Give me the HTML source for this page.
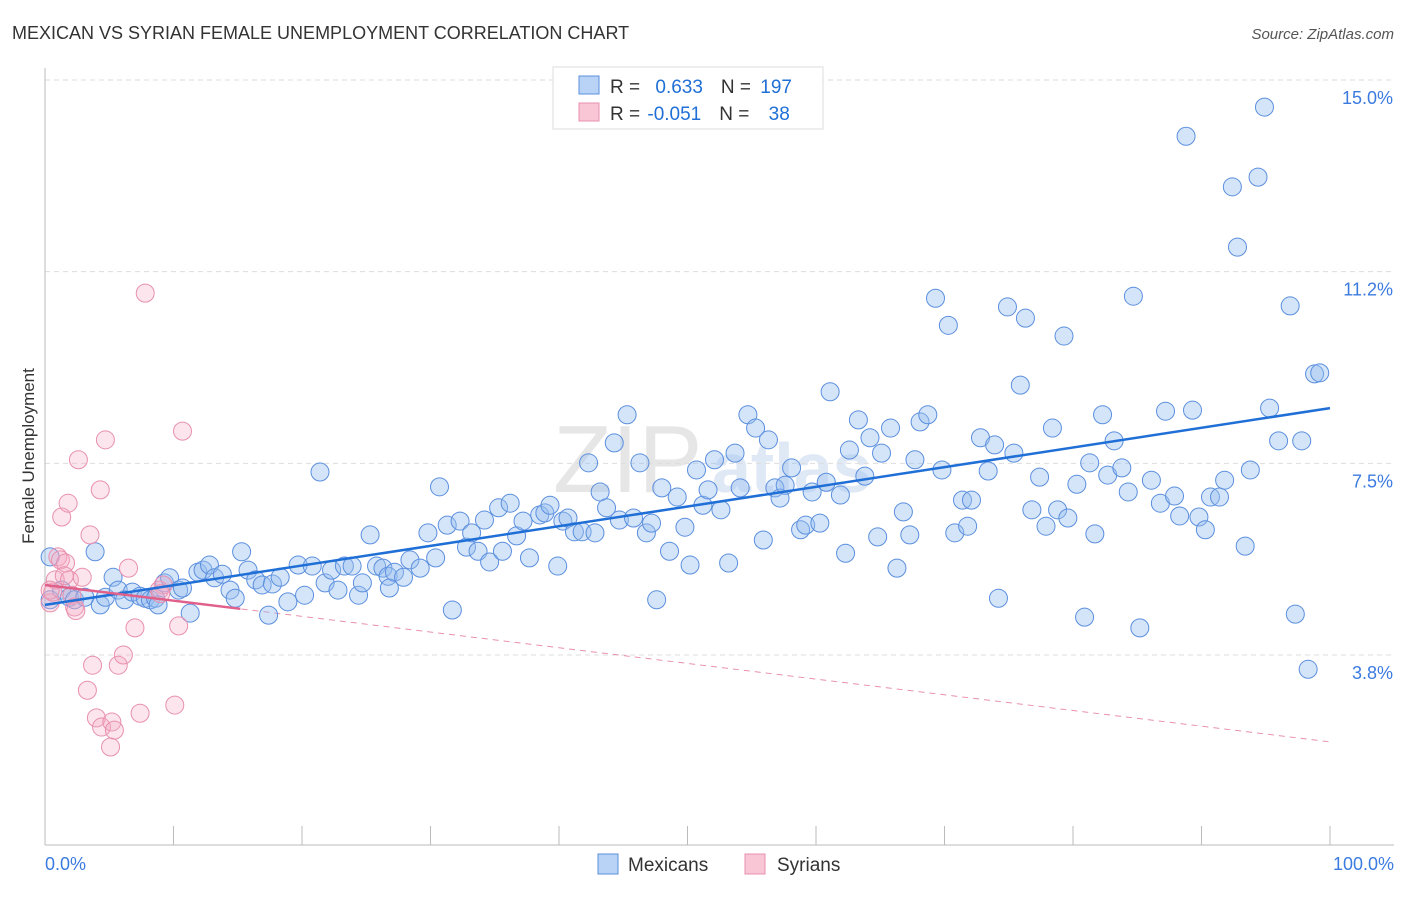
<!DOCTYPE html>
<html><head><meta charset="utf-8"><style>
body{margin:0;background:#fff;font-family:"Liberation Sans",sans-serif;}
svg text{font-family:"Liberation Sans",sans-serif;}
</style></head><body>
<svg id="chart" width="1406" height="892">
<text x="12" y="39" font-size="18" fill="#333">MEXICAN VS SYRIAN FEMALE UNEMPLOYMENT CORRELATION CHART</text>
<text x="1394" y="39" font-size="15" fill="#555" font-style="italic" text-anchor="end">Source: ZipAtlas.com</text>
<text x="34" y="456" font-size="17" fill="#333" text-anchor="middle" transform="rotate(-90 34 456)">Female Unemployment</text>
<g id="watermark">
<text x="553" y="492" font-size="96" fill="#e6e6e6" font-family="Liberation Serif">ZIP</text>
<text x="712" y="492" font-size="70" fill="#dfe8f5" font-weight="bold">atlas</text>
</g>
<g id="grid"></g><g id="axes"></g><g id="trend"></g><g id="pts"></g>
<g>
<rect x="553" y="67" width="270" height="62" fill="#fff" stroke="#ddd"/>
<rect x="579" y="76" width="20" height="18" fill="#b8d3f5" stroke="#5b8fde"/>
<rect x="579" y="103" width="20" height="18" fill="#f9c6d6" stroke="#e890ae"/>
<text x="610" y="93" font-size="19" fill="#333">R = <tspan fill="#1f6fd6" dx="10">0.633</tspan><tspan dx="18" fill="#333">N = </tspan><tspan fill="#1f6fd6" dx="4">197</tspan></text>
<text x="610" y="120" font-size="19" fill="#333">R = <tspan fill="#1f6fd6" dx="2">-0.051</tspan><tspan dx="18" fill="#333">N = </tspan><tspan fill="#1f6fd6" dx="14">38</tspan></text>
</g>
<g>
<rect x="598" y="854" width="20" height="20" fill="#b8d3f5" stroke="#5b8fde"/>
<text x="628" y="871" font-size="19" fill="#333">Mexicans</text>
<rect x="745" y="854" width="20" height="20" fill="#f9c6d6" stroke="#e890ae"/>
<text x="777" y="871" font-size="19" fill="#333">Syrians</text>
</g>
</svg>
<script>
const yTicks=[3.75,7.5,11.25,15];
const yTickLabels=["3.8%","7.5%","11.2%","15.0%"];
const xTicks=[0,10,20,30,40,50,60,70,80,90,100];
const xEndLabels=["0.0%","100.0%"];
const mexX=[0.4,0.4,1.3,1.9,2.3,3.1,3.9,4.3,4.7,5.3,5.7,6.2,6.8,7.4,7.8,8.2,8.6,8.8,9.3,9.7,10.4,10.7,11.3,11.9,12.3,12.8,13.2,13.8,14.4,14.8,15.3,15.8,16.4,16.9,17.4,17.7,18.3,18.9,19.7,20.2,20.8,21.4,21.8,22.3,22.8,23.3,23.9,24.4,24.7,25.3,25.8,26.3,26.7,26.8,27.2,27.9,28.4,29.2,29.8,30.4,30.7,31.3,31.7,32.3,32.8,33.2,33.7,34.2,34.6,35.3,35.6,36.2,36.7,37.2,37.7,38.5,38.9,39.3,39.9,40.3,40.7,41.2,41.8,42.3,42.8,43.2,43.7,44.3,44.7,45.3,45.8,46.3,46.8,47.2,47.6,48.0,48.6,49.2,49.8,50.2,50.7,51.2,51.6,52.1,52.6,53.2,53.7,54.1,54.7,55.3,55.9,56.3,56.8,57.2,57.6,58.1,58.8,59.2,59.7,60.3,60.8,61.1,61.9,62.3,62.6,63.3,63.8,64.2,64.8,65.1,65.8,66.3,66.8,67.3,67.7,68.1,68.7,69.3,69.8,70.3,70.8,71.4,71.8,72.1,72.8,73.4,73.9,74.2,74.9,75.4,75.9,76.3,76.8,77.4,77.9,78.4,78.8,79.3,79.6,80.3,80.9,81.3,81.7,82.3,82.7,83.2,83.8,84.3,84.7,85.2,86.1,86.8,87.2,87.9,88.3,88.8,89.3,89.8,90.3,90.7,91.4,91.8,92.4,92.8,93.4,93.8,94.4,94.9,95.3,96.0,96.9,97.3,97.8,98.3,98.8,99.2];
const mexY=[5.67,4.83,5.02,4.88,4.83,4.88,5.77,4.73,4.88,5.27,5.02,4.83,4.98,4.90,4.86,4.83,4.86,4.73,5.16,5.26,5.02,5.06,4.57,5.37,5.41,5.51,5.26,5.33,5.02,4.86,5.77,5.41,5.22,5.12,4.53,5.14,5.27,4.79,5.51,4.92,5.49,7.33,5.16,5.41,5.02,5.49,5.49,4.92,5.16,6.10,5.49,5.45,5.29,5.06,5.37,5.27,5.61,5.45,6.14,5.65,7.04,6.29,4.63,6.37,5.86,6.14,5.78,6.39,5.57,6.63,5.78,6.72,6.08,6.37,5.65,6.49,6.53,6.68,5.49,6.37,6.43,6.16,6.16,7.51,6.14,6.94,6.63,7.90,6.39,8.45,6.43,7.51,6.14,6.33,4.83,7.02,5.78,6.84,6.25,5.51,7.37,6.68,6.98,7.57,6.59,5.55,7.7,7.02,8.45,8.19,6.0,7.96,7.02,6.82,7.07,7.41,6.2,6.29,6.94,6.33,7.13,8.9,6.88,5.74,7.76,8.35,7.25,8.0,6.06,7.7,8.19,5.45,6.55,6.1,7.57,8.31,8.45,10.73,7.37,10.2,6.14,6.78,6.27,6.78,8.0,7.35,7.86,4.86,10.56,7.7,9.03,10.34,6.59,7.23,6.27,8.19,6.59,9.99,6.43,7.09,4.49,7.51,6.12,8.45,7.27,7.94,7.41,6.94,10.77,4.28,7.17,6.72,8.52,6.86,6.47,13.9,8.54,6.45,6.2,6.84,6.84,7.17,12.91,11.73,5.88,7.37,13.1,14.47,8.58,7.94,10.58,4.55,7.94,3.47,9.25,9.27];
const syrX=[0.4,0.6,0.8,1.0,1.2,1.3,1.6,1.8,1.9,2.1,2.3,2.6,2.9,3.5,3.7,4.0,4.3,4.7,4.4,5.1,5.2,5.4,5.7,6.1,6.5,7.0,7.4,7.8,8.9,9.2,10.1,10.4,10.7,0.4,3.3,2.4,1.5,9.0];
const syrY=[4.77,4.98,5.22,5.67,5.61,6.45,5.55,6.72,5.22,4.92,4.69,7.57,5.27,6.1,3.55,2.52,6.98,7.96,2.34,1.95,2.44,2.28,3.55,3.75,5.45,4.28,2.61,10.83,5.02,5.12,2.77,4.32,8.13,5.02,3.06,4.62,5.3,4.95];
const mexTrend=[4.73,8.58];
const syrTrend=[5.12,2.05];
const syrSolidEnd=15.2;

const NS="http://www.w3.org/2000/svg";
const X0=45,X1=1330,Y0=80,PXPER=51.11;
function sx(v){return X0+(X1-X0)*v/100;}
function sy(v){return Y0+(15-v)*PXPER;}
function mk(tag,attrs,parent){const e=document.createElementNS(NS,tag);for(const k in attrs)e.setAttribute(k,attrs[k]);parent.appendChild(e);return e;}
const grid=document.getElementById('grid'),axes=document.getElementById('axes'),trend=document.getElementById('trend'),pts=document.getElementById('pts');
yTicks.forEach((t,i)=>{
  const l=mk('line',{x1:X0,x2:1394,y1:sy(t),y2:sy(t),stroke:'#ddd','stroke-dasharray':'5,4'},grid);
  
  
  const tx=mk('text',{x:1393,y:sy(t)+24,'font-size':18,fill:'#3b7be0','text-anchor':'end'},grid);
  tx.textContent=yTickLabels[i];
  
  
});
const ya=mk('line',{x1:X0,x2:X0,y1:68,y2:845,stroke:'#bbb'},axes);


const xa=mk('line',{x1:X0,x2:1394,y1:845,y2:845,stroke:'#bbb'},axes);


xTicks.forEach(t=>{
  const l=mk('line',{x1:sx(t),x2:sx(t),y1:826,y2:845,stroke:'#bbb'},axes);
  
  
});
[[0,'start',45],[100,'end',1394]].forEach((a,i)=>{
  const tx=mk('text',{x:a[2],y:870,'font-size':18,fill:'#3b7be0','text-anchor':a[1]},axes);
  tx.textContent=xEndLabels[i];
  
  
});
function drawPts(xs,ys,fill,stroke,name){
  xs.forEach((x,i)=>{
    const c=mk('circle',{cx:sx(x),cy:sy(ys[i]),r:9,fill:fill,stroke:stroke,'stroke-width':1},pts);
    
    
  });
}
drawPts(mexX,mexY,'rgba(150,190,240,0.4)','#5b8fde','mexican-point');
drawPts(syrX,syrY,'rgba(245,170,195,0.3)','#e890ae','syrian-point');
const sd=mk('line',{x1:sx(0),y1:sy(syrTrend[0]),x2:sx(100),y2:sy(syrTrend[1]),stroke:'#e890ae','stroke-dasharray':'6,5','stroke-width':1},trend);


const mt=mk('line',{x1:sx(0),y1:sy(mexTrend[0]),x2:sx(100),y2:sy(mexTrend[1]),stroke:'#1f6fd6','stroke-width':2.5},pts);


const ss=mk('line',{x1:sx(0),y1:sy(syrTrend[0]),x2:sx(syrSolidEnd),y2:sy(syrTrend[0]+(syrTrend[1]-syrTrend[0])*syrSolidEnd/100),stroke:'#e0608a','stroke-width':2.5},pts);


</script>
</body></html>
